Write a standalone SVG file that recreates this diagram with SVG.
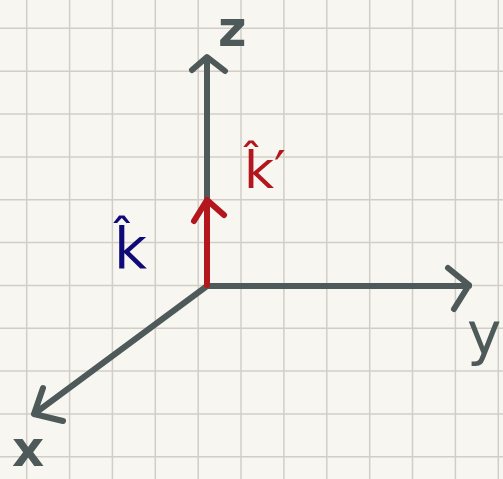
<svg xmlns="http://www.w3.org/2000/svg" width="503" height="479" viewBox="0 0 503 479">
<style>
.grid{stroke:#d2cec7;stroke-width:1.5;fill:none}
.axis{stroke:#4e5a5a;stroke-width:6;fill:none;stroke-linecap:round;stroke-linejoin:round}
.vec{stroke:#b3161c;stroke-width:6;fill:none;stroke-linecap:round;stroke-linejoin:round}
.lbl{font-family:"DejaVu Sans",sans-serif;fill:#4e5a5a}
.kb{font-family:"DejaVu Sans",sans-serif;fill:#100a78}
.kr{font-family:"DejaVu Sans",sans-serif;fill:#b3161c}
</style>
<rect width="503" height="479" fill="#f8f6f1"/>
<g id="grid">
<path class="grid" d="M26.7 0V479M69.6 0V479M112.4 0V479M155.3 0V479M198.2 0V479M241 0V479M283.9 0V479M326.8 0V479M369.7 0V479M412.5 0V479M455.4 0V479M498.3 0V479M0 28.3H503M0 71.2H503M0 114H503M0 156.9H503M0 199.7H503M0 242.6H503M0 285.4H503M0 328.3H503M0 371.1H503M0 414H503M0 456.8H503"/>
</g>
<g id="connectors">
<path class="axis" d="M207 286V58M192 70L207 57L225 71"/>
<path class="axis" d="M207 286H469M448 268L469 285L454 309"/>
<path class="axis" d="M207 286L34 414M43 388L34 414L63 421"/>
<path class="vec" d="M207 285V201M194 221L207 200L224 215"/>
</g>
<g id="label-z"><text class="lbl" x="218" y="46" font-size="49" font-weight="bold">z</text></g>
<g id="label-y"><text class="lbl" x="467" y="354" font-size="58">y</text></g>
<g id="label-x"><text class="lbl" x="12" y="466" font-size="50" font-weight="bold">x</text></g>
<g id="label-k"><text class="kb" x="114" y="268" font-size="57">k̂</text></g>
<g id="label-kprime"><text class="kr" x="244" y="188" font-size="52">k̂′</text></g>
</svg>
